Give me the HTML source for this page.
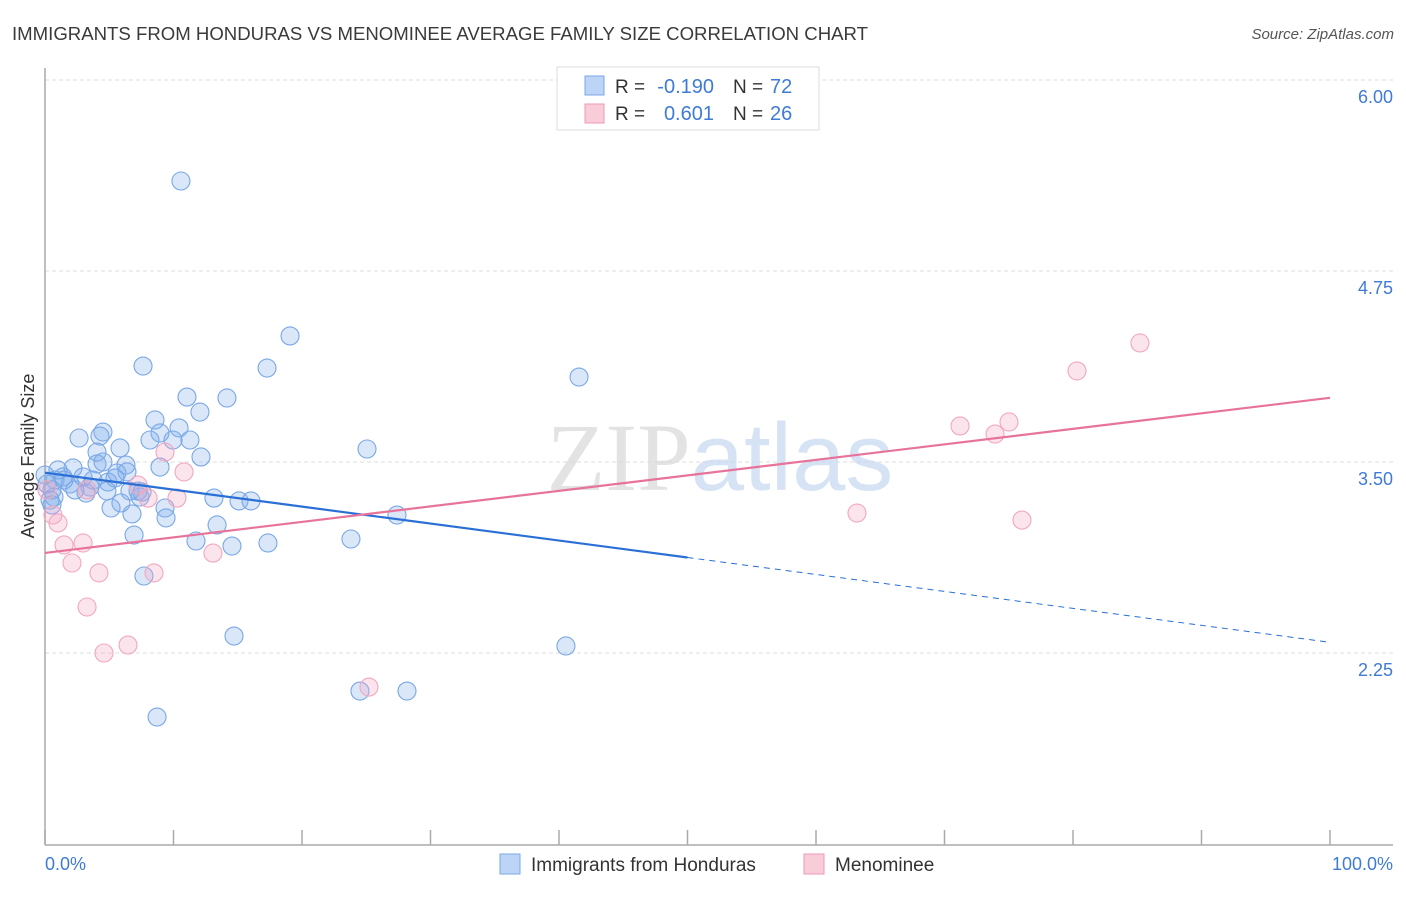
<!DOCTYPE html>
<html><head><meta charset="utf-8"><style>
body{margin:0;background:#fff;font-family:"Liberation Sans",sans-serif;}
svg text{font-family:"Liberation Sans",sans-serif;}
</style></head><body>
<svg width="1406" height="892" xmlns="http://www.w3.org/2000/svg">
<text x="12" y="40" font-size="18" fill="#3a3a3a" textLength="856" lengthAdjust="spacingAndGlyphs">IMMIGRANTS FROM HONDURAS VS MENOMINEE AVERAGE FAMILY SIZE CORRELATION CHART</text>
<text x="1394" y="39" font-size="15" fill="#555" font-style="italic" text-anchor="end">Source: ZipAtlas.com</text>
<g id="grid"></g>
<text x="720" y="490" font-size="96" fill="#d8d8d8" text-anchor="middle" font-family="Liberation Serif" opacity="0.7"><tspan font-family="Liberation Serif">ZIP</tspan><tspan fill="#c5d8f0" font-family="Liberation Sans">atlas</tspan></text>
<line x1="45" y1="68" x2="45" y2="845" stroke="#aaa" stroke-width="1.5"/>
<line x1="45" y1="845" x2="1393" y2="845" stroke="#aaa" stroke-width="1.5"/>
<g id="xticks"></g>
<text x="45" y="870" font-size="18" fill="#3f7bd6">0.0%</text>
<text x="1393" y="870" font-size="18" fill="#3f7bd6" text-anchor="end">100.0%</text>
<text transform="translate(34,456) rotate(-90)" font-size="18" fill="#333" text-anchor="middle">Average Family Size</text>
<g id="pts"></g>
<g id="lines"></g>
<g>
<rect x="557" y="67" width="262" height="63" fill="#fff" stroke="#ddd"/>
<rect x="585" y="76" width="19" height="19" fill="#bcd4f5" stroke="#7aa7e6"/>
<rect x="585" y="104" width="19" height="19" fill="#f9ccd9" stroke="#ee9ab4"/>
<text x="615" y="93" font-size="19" fill="#333">R =</text>
<text x="714" y="93" font-size="20" fill="#3f7bd6" text-anchor="end">-0.190</text>
<text x="733" y="93" font-size="19" fill="#333">N =</text>
<text x="770" y="93" font-size="20" fill="#3f7bd6">72</text>
<text x="615" y="120" font-size="19" fill="#333">R =</text>
<text x="714" y="120" font-size="20" fill="#3f7bd6" text-anchor="end">0.601</text>
<text x="733" y="120" font-size="19" fill="#333">N =</text>
<text x="770" y="120" font-size="20" fill="#3f7bd6">26</text>
</g>
<g>
<rect x="500" y="854" width="20" height="20" fill="#bcd4f5" stroke="#7aa7e6"/>
<text x="531" y="871" font-size="19" fill="#333">Immigrants from Honduras</text>
<rect x="804" y="854" width="20" height="20" fill="#f9ccd9" stroke="#ee9ab4"/>
<text x="835" y="871" font-size="19" fill="#333">Menominee</text>
</g>
</svg>
<script>
const yTicks=[6.00,4.75,3.50,2.25];
const yTickLabels=["6.00","4.75","3.50","2.25"];
const xTickPct=[0,10,20,30,40,50,60,70,80,90,100];
const bluePx=[[181,181],[290,336],[143,366],[267,368],[579,377],[187,397],[227,398],[200,412],[155,420],[179,428],[160,433],[103,432],[100,436],[79,438],[150,440],[173,440],[190,440],[120,448],[97,452],[367,449],[201,457],[126,465],[97,464],[160,467],[73,468],[58,470],[117,473],[127,472],[83,477],[63,477],[45,475],[55,480],[108,482],[70,484],[90,487],[52,490],[130,491],[138,491],[86,493],[107,491],[54,497],[140,497],[214,498],[239,501],[251,501],[121,503],[52,505],[111,508],[165,508],[132,514],[166,518],[397,515],[217,525],[134,535],[351,539],[196,541],[232,546],[268,543],[144,576],[234,636],[566,646],[360,691],[407,691],[157,717],[47,484],[50,500],[64,480],[75,490],[93,480],[115,478],[103,462],[142,492]];
const pinkPx=[[1140,343],[1077,371],[960,426],[1009,422],[995,434],[857,513],[1022,520],[165,452],[184,472],[177,498],[148,498],[138,485],[87,490],[47,490],[53,515],[58,523],[64,545],[83,543],[72,563],[99,573],[154,573],[213,553],[87,607],[128,645],[104,653],[369,687]];
// data values (x in %, y in avg family size), derived from picture
const blueX=bluePx.map(p=>+((p[0]-45)/12.85).toFixed(2));
const blueY=bluePx.map(p=>+(6-(p[1]-80)/152.8).toFixed(3));
const pinkX=pinkPx.map(p=>+((p[0]-45)/12.85).toFixed(2));
const pinkY=pinkPx.map(p=>+(6-(p[1]-80)/152.8).toFixed(3));
const blueTrend=[3.43,2.32]; const pinkTrend=[2.905,3.92];
const NS="http://www.w3.org/2000/svg";
const X=v=>45+v*12.85, Y=v=>80+(6-v)*152.8;
function mk(t,a,p){const e=document.createElementNS(NS,t);for(const k in a)e.setAttribute(k,a[k]);p.appendChild(e);return e;}
const grid=document.getElementById('grid');
yTicks.forEach((v,i)=>{
 const l=mk('line',{x1:45,x2:1393,y1:Y(v),y2:Y(v),stroke:'#ddd','stroke-dasharray':'4,3'},grid);
 
 
 const t=mk('text',{x:1393,y:Y(v)+23,'font-size':18,fill:'#3f7bd6','text-anchor':'end'},grid);
 t.textContent=yTickLabels[i];
 
 
});
const xt=document.getElementById('xticks');
xTickPct.forEach(v=>{
 const l=mk('line',{x1:X(v),x2:X(v),y1:830,y2:845,stroke:'#aaa','stroke-width':1.5},xt);
 
 
});
const pts=document.getElementById('pts');
blueX.forEach((x,i)=>{
 const c=mk('circle',{cx:X(x),cy:Y(blueY[i]),r:9,fill:'rgba(130,175,235,0.3)',stroke:'#7aa7e6','stroke-width':1.1},pts);
 
 
});
pinkX.forEach((x,i)=>{
 const c=mk('circle',{cx:X(x),cy:Y(pinkY[i]),r:9,fill:'rgba(245,165,195,0.3)',stroke:'#f0a8bf','stroke-width':1.1},pts);
 
 
});
const ln=document.getElementById('lines');
const bAt=x=>blueTrend[0]+(blueTrend[1]-blueTrend[0])*x/100;
let l1=mk('line',{x1:X(0),y1:Y(bAt(0)),x2:X(50),y2:Y(bAt(50)),stroke:'#2a6fd6','stroke-width':2.2},ln);


let l2=mk('line',{x1:X(50),y1:Y(bAt(50)),x2:X(100),y2:Y(bAt(100)),stroke:'#2a6fd6','stroke-width':1,'stroke-dasharray':'6,5'},ln);


let l3=mk('line',{x1:X(0),y1:Y(pinkTrend[0]),x2:X(100),y2:Y(pinkTrend[1]),stroke:'#e8739a','stroke-width':2.2},ln);


</script>
</body></html>
